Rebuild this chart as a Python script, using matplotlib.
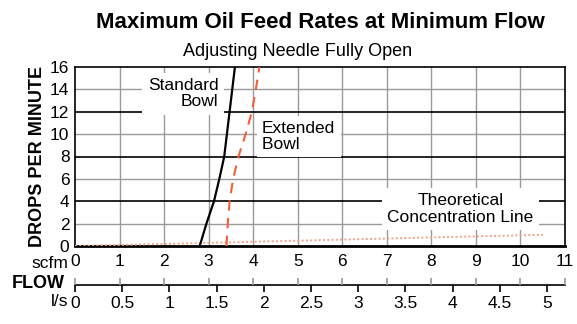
# Maximum oil feed rates at minimum flow -- drops/min vs flow (scfm, l/s)

import matplotlib.pyplot as plt

plt.rcParams["font.family"] = ["Liberation Sans", "DejaVu Sans"]

# curves (scfm, drops per minute)
standard_scfm = [2.8, 2.95, 3.12, 3.24, 3.35, 3.41, 3.47, 3.53, 3.59]
standard_drops = [0, 2, 4, 6, 8, 10, 12, 14, 16]
extended_scfm = [3.4, 3.43, 3.47, 3.55, 3.67, 3.83, 3.97, 4.06, 4.14]
extended_drops = [0, 2, 4, 6, 8, 10, 12, 14, 16]
theory_scfm = [0, 3.5, 7.0, 10.5]
theory_drops = [0, 0.33, 0.67, 1.0]

scfm_ticks = list(range(0, 12))
lps_ticks = [0, 0.5, 1, 1.5, 2, 2.5, 3, 3.5, 4, 4.5, 5]
lps_labels = ["0", "0.5", "1", "1.5", "2", "2.5", "3", "3.5", "4", "4.5", "5"]
drops_ticks = list(range(0, 17, 2))
SCFM_TO_LPS = 0.4719

fig = plt.figure(figsize=(5.77, 3.24), dpi=100)
ax = fig.add_axes([75 / 577, 78 / 324, 490 / 577, 179 / 324])

ax.set_xlim(0, 11)
ax.set_ylim(0, 16)

# grid: grey verticals, grey/black horizontals
for x in scfm_ticks[1:-1]:
    ax.axvline(x, color="#9a9a9a", lw=1.0, zorder=0)
for y in drops_ticks[1:-1]:
    dark = y in (4, 8, 12)
    ax.axhline(y, color="black" if dark else "#9a9a9a", lw=1.2 if dark else 1.0, zorder=0)

ax.plot(theory_scfm, theory_drops, color="#f4a08a", lw=1.4, ls=(0, (1, 1.2)), zorder=4)
ax.plot(standard_scfm, standard_drops, color="black", lw=1.6, zorder=4)
ax.plot(extended_scfm, extended_drops, color="#f0603a", lw=1.5, ls=(0, (5, 3.5)), zorder=4)

box = dict(facecolor="white", edgecolor="none", pad=4)
ax.text(3.22, 13.6, "Standard\nBowl", ha="right", va="center", fontsize=12.5,
        linespacing=1.1, bbox=box, zorder=3)
ax.text(4.2, 9.8, "Extended\nBowl  ", ha="left", va="center", fontsize=12.5,
        linespacing=1.1, bbox=dict(facecolor="white", edgecolor="none",
                                   boxstyle="square,pad=0.3"), zorder=3)
ax.text(8.65, 3.3, "Theoretical\nConcentration Line", ha="center", va="center",
        fontsize=12.5, linespacing=1.1, bbox=box, zorder=3)

ax.set_xticks(scfm_ticks)
ax.set_yticks(drops_ticks)
ax.tick_params(length=0, labelsize=12.5, pad=4)
ax.tick_params(axis="x", pad=6)
for side in ["top", "right", "left"]:
    ax.spines[side].set_linewidth(1.2)
ax.spines["bottom"].set_linewidth(2)

ax.set_ylabel("DROPS PER MINUTE", fontsize=13, fontweight="bold", labelpad=3)

# l/s scale below
lps = ax.secondary_xaxis(-0.218, functions=(lambda v: v * SCFM_TO_LPS,
                                            lambda v: v / SCFM_TO_LPS))
lps.set_xticks(lps_ticks, lps_labels)
lps.tick_params(direction="out", length=5, width=1.2, labelsize=12.5, pad=3)
lps.spines["bottom"].set_linewidth(1.2)

up = ax.secondary_xaxis(-0.218)
up.set_xticks(scfm_ticks)
up.tick_params(direction="in", length=5, width=1.2, color="#9a9a9a", labelbottom=False)
up.spines["bottom"].set_visible(False)

fig.text(68 / 577, 1 - 264 / 324, "scfm", ha="right", va="center", fontsize=12.5)
fig.text(12 / 577, 1 - 284 / 324, "FLOW", ha="left", va="center", fontsize=13,
         fontweight="bold")
fig.text(68 / 577, 1 - 301 / 324, "l/s", ha="right", va="center", fontsize=12.5)

fig.text(320 / 577, 1 - 22 / 324, "Maximum Oil Feed Rates at Minimum Flow",
         ha="center", va="center", fontsize=16, fontweight="bold")
fig.text(298 / 577, 1 - 51 / 324, "Adjusting Needle Fully Open",
         ha="center", va="center", fontsize=13)

plt.savefig("out.png", dpi=100)
